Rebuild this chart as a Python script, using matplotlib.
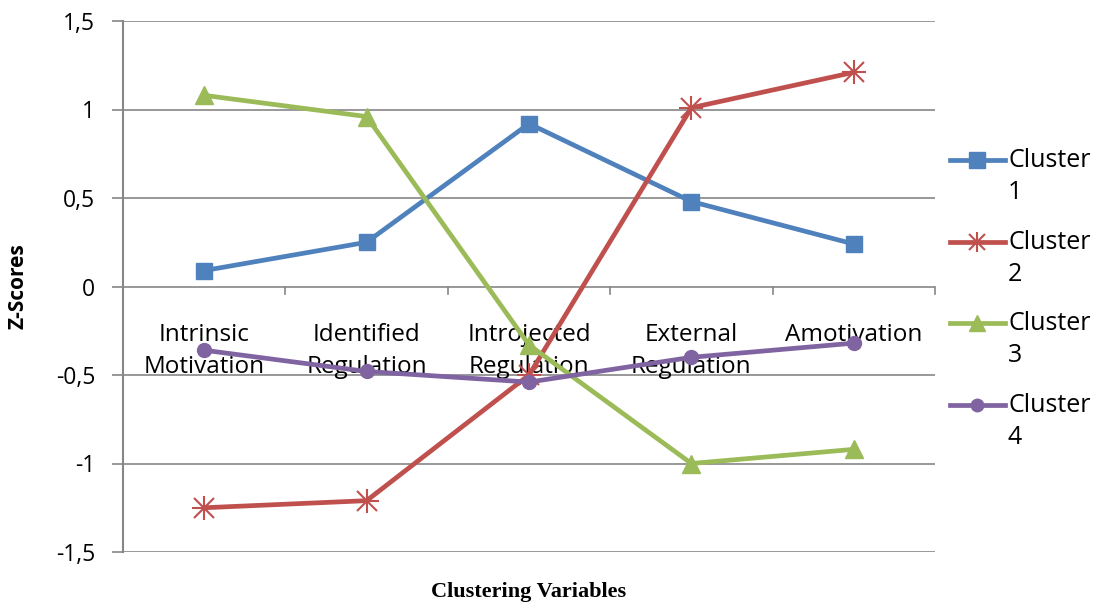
import matplotlib
matplotlib.use("Agg")
import matplotlib.pyplot as plt
from matplotlib.lines import Line2D

categories = ["Intrinsic\nMotivation", "Identified\nRegulation", "Introjected\nRegulation",
              "External\nRegulation", "Amotivation"]
cluster1 = [0.09, 0.25, 0.92, 0.48, 0.24]
cluster2 = [-1.25, -1.21, -0.50, 1.01, 1.21]
cluster3 = [1.08, 0.96, -0.33, -1.00, -0.92]
cluster4 = [-0.36, -0.48, -0.54, -0.40, -0.32]
series_names = ["Cluster\n1", "Cluster\n2", "Cluster\n3", "Cluster\n4"]
yticks = [-1.5, -1.0, -0.5, 0.0, 0.5, 1.0, 1.5]
ytick_labels = ["-1,5", "-1", "-0,5", "0", "0,5", "1", "1,5"]

colors = ["#4F81BD", "#C0504D", "#9BBB59", "#8064A2"]
markers = ["s", "x", "^", "o"]
msizes = [12, 14, 13, 10]
font = "Open Sans"
grid_c = "#868686"

fig = plt.figure(figsize=(11.01, 6.06), dpi=100)
ax = fig.add_axes([123/1101, 1-552/606, (935-123)/1101, (552-21)/606])
x = list(range(len(categories)))

for i, ys in enumerate([cluster1, cluster2, cluster3, cluster4]):
    mk = markers[i]
    kw = dict(color=colors[i], lw=3.4, marker=mk, markersize=msizes[i], zorder=3 + i * 0.1)
    if mk == "x":
        kw.update(markeredgewidth=1.5)
        ax.plot(x, ys, **kw)
        ax.plot(x, ys, ls="none", marker="+", markersize=msizes[i] + 3, markeredgewidth=1.5,
                color=colors[i], zorder=3.1)
    else:
        ax.plot(x, ys, **kw)

ax.set_xlim(-0.5, len(categories) - 0.5)
ax.set_ylim(-1.5, 1.5)
ax.set_yticks(yticks)
ax.set_yticklabels(ytick_labels, fontsize=16.5, family=font)
ax.tick_params(axis="y", length=8, color=grid_c, width=1.2, pad=12)
ax.set_xticks([])
for yv in yticks:
    if yv != 0:
        ax.axhline(yv, color=grid_c, lw=1.2, zorder=1)
ax.axhline(0, color=grid_c, lw=1.2, zorder=1)
for b in range(len(categories) + 1):
    ax.plot([b - 0.5, b - 0.5], [0, -0.045], color=grid_c, lw=1.2, clip_on=False, zorder=1)

for s in ["top", "right", "bottom"]:
    ax.spines[s].set_visible(False)
ax.spines["left"].set_color(grid_c)
ax.spines["left"].set_linewidth(1.5)

for xi, lab in zip(x, categories):
    ax.annotate(lab, (xi, 0), xytext=(0, -26), textcoords="offset points", ha="center",
                va="top", fontsize=17.5, family=font, linespacing=1.45, zorder=2)

ax.set_ylabel("Z-Scores", fontsize=15, fontweight="bold", family=font, labelpad=20)
fig.text(529/1101, 1-592/606, "Clustering Variables", ha="center", va="center",
         fontsize=16, fontweight="bold", family="Liberation Serif")

# legend
leg_y = [160, 242, 323, 405]
for i, yy in enumerate(leg_y):
    yf = 1 - yy / 606
    mk = markers[i]
    fig.add_artist(Line2D([950/1101, 1005/1101], [yf, yf], color=colors[i], lw=3.4,
                          transform=fig.transFigure))
    if mk == "x":
        fig.add_artist(Line2D([977/1101], [yf], color=colors[i], marker="x", markersize=12,
                              markeredgewidth=1.5, transform=fig.transFigure))
        fig.add_artist(Line2D([977/1101], [yf], color=colors[i], marker="+", markersize=14,
                              markeredgewidth=1.5, transform=fig.transFigure))
    else:
        fig.add_artist(Line2D([977/1101], [yf], color=colors[i], marker=mk,
                              markersize=msizes[i] - 1, transform=fig.transFigure))
    fig.text(1008/1101, yf + 12/606, series_names[i], ha="left", va="top", fontsize=18,
             family=font, linespacing=1.38)

fig.savefig("out.png", dpi=100)
